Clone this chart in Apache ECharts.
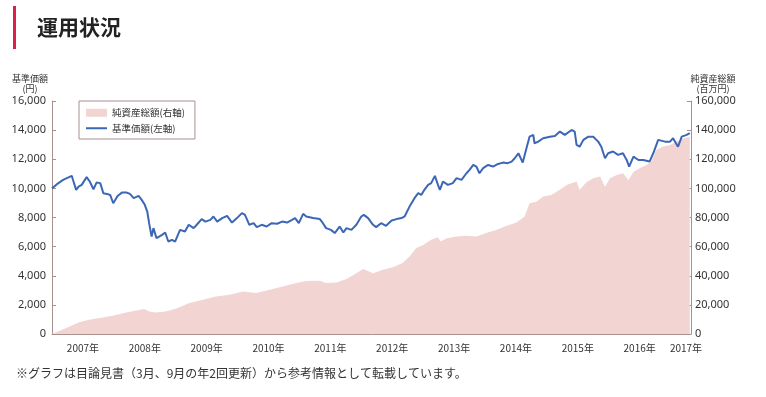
<!DOCTYPE html>
<html>
<head>
<meta charset="utf-8">
<script src="https://cdn.jsdelivr.net/npm/echarts@6/dist/echarts.min.js"></script>
<style>
html,body{margin:0;padding:0;background:#fff;}
#chart{width:766px;height:397px;}
</style>
</head>
<body>
<div id="chart"></div>
<script>
// ---- data (x in decimal years) ----
const titleText = '運用状況';
const footnote = '※グラフは目論見書（3月、9月の年2回更新）から参考情報として転載しています。';
const navName = '基準価額(左軸)';
const assetName = '純資産総額(右軸)';
const leftAxisName = '基準価額\n(円)';
const rightAxisName = '純資産総額\n(百万円)';

const navYears = [2007.00,2007.08,2007.18,2007.24,2007.32,2007.34,2007.39,2007.43,2007.48,2007.56,2007.61,2007.67,2007.72,2007.78,2007.83,2007.89,2007.94,2007.99,
2008.06,2008.13,2008.21,2008.26,2008.32,2008.40,2008.45,2008.50,2008.54,2008.57,2008.61,2008.64,2008.69,2008.78,2008.83,2008.88,2008.94,2008.99,
2009.07,2009.15,2009.21,2009.29,2009.34,2009.42,2009.48,2009.56,2009.61,2009.67,2009.75,2009.83,2009.91,2009.99,
2010.07,2010.12,2010.19,2010.26,2010.31,2010.39,2010.47,2010.55,2010.64,2010.72,2010.80,2010.88,2010.93,2010.99,
2011.06,2011.11,2011.22,2011.33,2011.38,2011.43,2011.51,2011.57,2011.65,2011.71,2011.76,2011.84,2011.92,
2012.00,2012.04,2012.11,2012.19,2012.24,2012.32,2012.40,2012.49,2012.57,2012.65,2012.70,2012.78,2012.86,2012.92,2012.97,
2013.02,2013.08,2013.13,2013.19,2013.24,2013.27,2013.32,2013.40,2013.48,2013.54,2013.62,2013.70,2013.75,2013.81,2013.86,2013.91,2013.97,
2014.05,2014.13,2014.21,2014.29,2014.37,2014.43,2014.48,2014.54,2014.61,2014.67,2014.72,2014.78,2014.80,2014.86,2014.94,
2015.05,2015.13,2015.21,2015.29,2015.32,2015.40,2015.45,2015.48,2015.53,2015.59,2015.67,2015.75,2015.83,2015.88,2015.94,2015.99,
2016.07,2016.15,2016.23,2016.29,2016.33,2016.40,2016.48,2016.56,2016.66,2016.72,2016.80,2016.91,2016.99,
2017.04,2017.12,2017.18,2017.26,2017.31];
const navValues = [10000,10290,10580,10700,10860,10580,9900,10120,10240,10770,10470,9940,10400,10360,9670,9620,9550,8980,
9480,9710,9710,9620,9330,9480,9210,8870,8410,7610,6690,7270,6580,6810,6970,6350,6470,6350,
7150,7040,7500,7270,7500,7890,7720,7840,8070,7720,7960,8110,7650,7960,
8300,8180,7500,7610,7340,7500,7380,7610,7570,7720,7650,7840,7960,7610,
8250,8070,7960,7890,7610,7270,7150,6930,7380,6970,7270,7150,7500,
8070,8180,7960,7500,7340,7610,7430,7790,7890,7960,8070,8750,9330,9670,9550,
9900,10240,10360,10860,10240,9900,10470,10240,10360,10700,10580,11040,11270,11610,11500,11040,11390,
11610,11500,11680,11770,11730,11840,12070,12410,11770,12760,13550,13670,13100,13210,13440,
13550,13600,13900,13670,13790,14010,13900,12980,12860,13330,13550,13550,13210,12860,12070,12410,
12530,12300,12410,11950,11500,12180,11950,11950,11840,12410,13330,13210,13210,
13440,12860,13550,13670,13790];

const assetYears = [2007.00,2007.23,2007.44,2007.60,2007.77,2007.98,2008.20,2008.36,2008.49,2008.57,2008.68,2008.84,2009.01,
2009.22,2009.44,2009.65,2009.87,2010.09,2010.30,2010.52,2010.73,2010.95,2011.11,2011.33,2011.43,2011.60,2011.76,2011.92,
2012.03,2012.19,2012.35,2012.51,2012.67,2012.78,2012.89,2013.00,2013.13,2013.24,2013.28,2013.38,2013.54,2013.70,2013.86,
2014.02,2014.18,2014.35,2014.51,2014.64,2014.72,2014.83,2014.94,2015.07,2015.21,2015.32,2015.48,2015.53,2015.64,2015.75,2015.86,2015.94,
2016.02,2016.13,2016.23,2016.32,2016.40,2016.50,2016.61,2016.69,2016.77,2016.88,2016.99,2017.10,2017.21,2017.31];
const assetValues = [0,4100,8000,9800,11000,12500,14800,16200,17100,15500,14800,15500,17500,
21300,23500,25800,27000,29200,28100,30400,32600,35000,36400,36600,35000,35400,37700,41800,
44600,41800,44100,45900,48700,53200,59000,61200,64700,66500,63500,65800,66900,67400,66900,
69300,71500,74300,76500,80700,89800,90900,94400,95500,99000,102400,104700,99000,104200,107000,108100,101200,
107000,109200,110400,105800,111500,113800,116100,118400,126400,128700,129800,132100,134400,135500];

const xMin = 2007, xMax = 2017.33;
const leftMax = 16000, leftStep = 2000;
const rightMax = 160000, rightStep = 20000;

const axisColor = '#a8918d';
const textColor = '#333';
const fmt = v => v.toLocaleString('en-US');
// legend icon for the line: a thin horizontal bar in the middle of the 21x8 icon box
const lineIcon = 'path://M0,0L0.01,0L0.01,0.01L0,0.01Z M0,3L21,3L21,5L0,5Z M20.99,7.99L21,7.99L21,8L20.99,8Z';

const chart = echarts.init(document.getElementById('chart'), null, {renderer: 'canvas'});
chart.setOption({
  animation: false,
  backgroundColor: '#fff',
  title: [
    {text: titleText, left: 32, top: 12, textStyle: {fontFamily: 'Noto Sans CJK JP', fontSize: 21, fontWeight: 'bold', color: '#222'}},
    {text: footnote, left: 11, top: 362, textStyle: {fontFamily: 'Noto Sans CJK JP', fontSize: 12, fontWeight: 'normal', color: '#333'}}
  ],
  graphic: [
    {type: 'rect', left: 13, top: 6, shape: {width: 3, height: 43}, style: {fill: '#dc1e4b'}}
  ],
  legend: {
    orient: 'vertical', left: 79, top: 101,
    padding: [7, 10, 6, 7], itemGap: 6, itemWidth: 21, itemHeight: 8,
    borderColor: axisColor, borderWidth: 1,
    textStyle: {fontFamily: 'Noto Sans CJK JP', fontSize: 9.5, color: textColor},
    data: [{name: assetName, icon: 'rect'}, {name: navName, icon: lineIcon}]
  },
  grid: {left: 52, right: 75, top: 101, bottom: 63, containLabel: false},
  xAxis: [
    {type: 'value', min: xMin, max: xMax, interval: 1,
     axisLine: {lineStyle: {color: axisColor, width: 1}},
     axisTick: {inside: true, length: 4, lineStyle: {color: axisColor}},
     axisLabel: {show: false}, splitLine: {show: false}},
    {type: 'value', min: xMin, max: xMax, interval: 0.5, position: 'bottom',
     axisLine: {show: false}, axisTick: {show: false}, splitLine: {show: false},
     axisLabel: {show: true, showMaxLabel: true, showMinLabel: false, margin: 9,
       fontFamily: 'Noto Sans CJK JP', fontSize: 10, color: textColor,
       formatter: v => {
         if (v > 2017.2) return '{e|' + Math.floor(v) + '年}';
         const f = Math.round((v % 1) * 10) / 10;
         return f === 0.5 ? Math.floor(v) + '年' : '';
       },
       rich: {e: {fontFamily: 'Noto Sans CJK JP', fontSize: 10, color: textColor, padding: [0, 10, 0, 0]}}
     }}
  ],
  yAxis: [
    {type: 'value', min: 0, max: leftMax, interval: leftStep, position: 'left',
     name: leftAxisName, nameLocation: 'end', nameGap: 7,
     nameTextStyle: {fontFamily: 'Noto Sans CJK JP', fontSize: 9, color: textColor, align: 'center', lineHeight: 10, padding: [0, 44, 0, 0]},
     axisLine: {show: true, lineStyle: {color: axisColor}},
     axisTick: {show: true, inside: true, length: 4, lineStyle: {color: axisColor}},
     axisLabel: {fontFamily: 'Noto Sans', fontSize: 11, color: textColor, margin: 6, formatter: fmt},
     splitLine: {show: false}},
    {type: 'value', min: 0, max: rightMax, interval: rightStep, position: 'right',
     name: rightAxisName, nameLocation: 'end', nameGap: 7,
     nameTextStyle: {fontFamily: 'Noto Sans CJK JP', fontSize: 9, color: textColor, align: 'center', lineHeight: 10, padding: [0, 0, 0, 44]},
     axisLine: {show: true, lineStyle: {color: axisColor}},
     axisTick: {show: true, inside: true, length: 4, lineStyle: {color: axisColor}},
     axisLabel: {fontFamily: 'Noto Sans', fontSize: 11, color: textColor, margin: 4, formatter: fmt},
     splitLine: {show: false}}
  ],
  series: [
    {name: assetName, type: 'line', xAxisIndex: 0, yAxisIndex: 1, symbol: 'none',
     data: assetYears.map((y, i) => [y, assetValues[i]]),
     itemStyle: {color: '#f2d4d2'},
     lineStyle: {width: 0, color: '#f2d4d2'},
     areaStyle: {color: '#f2d4d2', opacity: 1}, z: 1},
    {name: navName, type: 'line', xAxisIndex: 0, yAxisIndex: 0, symbol: 'none',
     data: navYears.map((y, i) => [y, navValues[i]]),
     itemStyle: {color: '#3b67b6'},
     lineStyle: {width: 2, color: '#3b67b6'}, z: 3}
  ]
});
</script>
</body>
</html>
